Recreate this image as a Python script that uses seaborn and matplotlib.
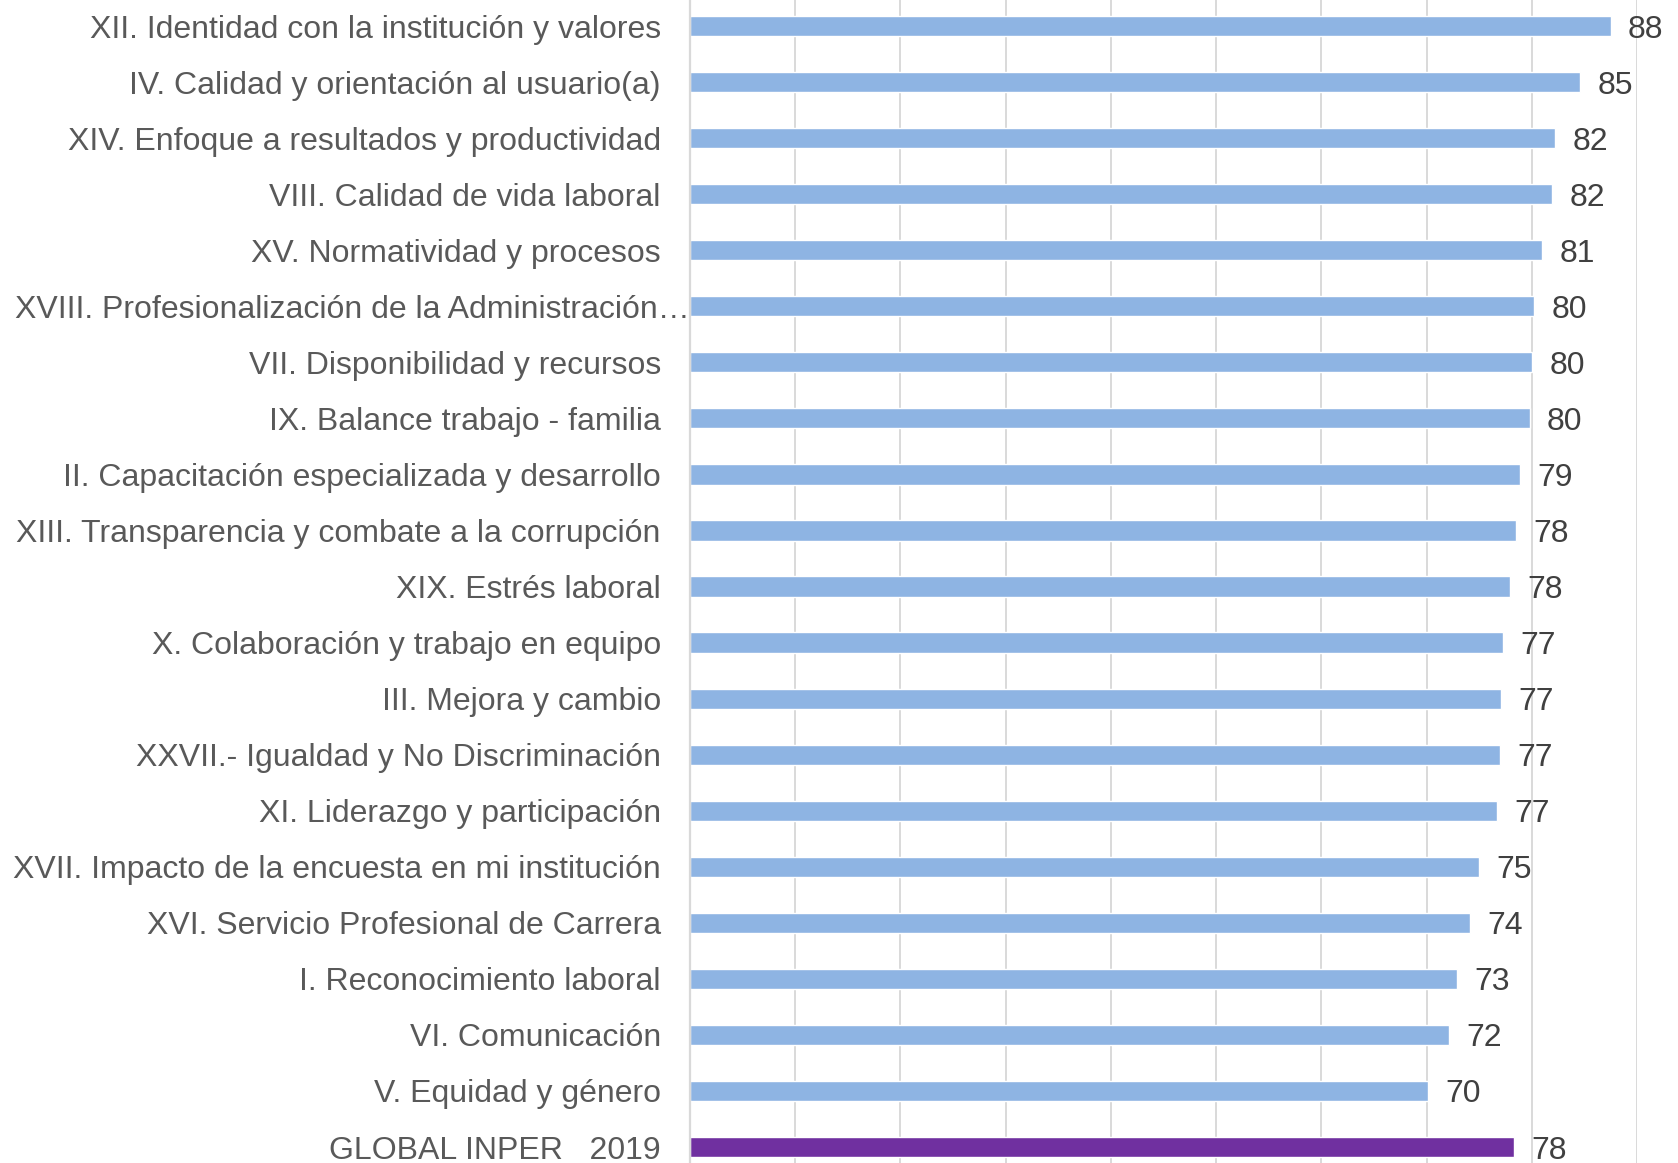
import matplotlib
matplotlib.use("Agg")
import matplotlib.pyplot as plt
import matplotlib.transforms as mtransforms
import seaborn as sns

categories = [
    "XII. Identidad con la institución y valores",
    "IV. Calidad y orientación al usuario(a)",
    "XIV. Enfoque a resultados y productividad",
    "VIII. Calidad de vida laboral",
    "XV. Normatividad y procesos",
    "XVIII. Profesionalización de la Administración…",
    "VII. Disponibilidad y recursos",
    "IX. Balance trabajo - familia",
    "II. Capacitación especializada y desarrollo",
    "XIII. Transparencia y combate a la corrupción",
    "XIX. Estrés laboral",
    "X. Colaboración y trabajo en equipo",
    "III. Mejora y cambio",
    "XXVII.- Igualdad y No Discriminación",
    "XI. Liderazgo y participación",
    "XVII. Impacto de la encuesta en mi institución",
    "XVI. Servicio Profesional de Carrera",
    "I. Reconocimiento laboral",
    "VI. Comunicación",
    "V. Equidad y género",
    "GLOBAL INPER   2019",
]
values = [87.5, 84.6, 82.2, 81.9, 81.0, 80.2, 80.0, 79.8, 78.9, 78.5, 77.9,
          77.3, 77.1, 77.0, 76.7, 75.0, 74.1, 72.9, 72.1, 70.1, 78.3]
colors = ["#8EB4E3"] * 20 + ["#7030A0"]

sns.set_style("white")
plt.rcParams["font.family"] = ["Liberation Sans", "DejaVu Sans"]

fig = plt.figure(figsize=(16.78, 11.63), dpi=100)
ax = fig.add_axes([690 / 1678, 0, (1637 - 690) / 1678, 1])

sns.barplot(x=values, y=categories, hue=categories, palette=colors,
            orient="h", width=0.36, legend=False, ax=ax, saturation=1)

for c in ax.containers:
    texts = ax.bar_label(c, fmt="%.0f", padding=12.5, fontsize=23, color="#404040")
    for t in texts:
        t.set_va("center_baseline")

ax.set_xlim(0, 90)
ax.set_ylim(20.285, -0.464)
ax.set_xticks(range(0, 91, 10))
ax.set_xticklabels([])
ax.tick_params(axis="x", length=0)
ax.tick_params(axis="y", length=0, pad=21, labelsize=23, labelcolor="#595959")
ax.grid(axis="x", color="#D9D9D9", linewidth=1.4)
ax.set_axisbelow(True)
for s in ["top", "right", "bottom"]:
    ax.spines[s].set_visible(False)
ax.spines["left"].set_color("#D9D9D9")
ax.spines["left"].set_linewidth(1.6)
ax.set_xlabel("")
ax.set_ylabel("")

# truncated label sits flush against the axis
lbl = ax.get_yticklabels()[5]
lbl.set_transform(lbl.get_transform() + mtransforms.ScaledTranslation(21 / 72, 0, fig.dpi_scale_trans))

fig.savefig("out.png", dpi=100)
